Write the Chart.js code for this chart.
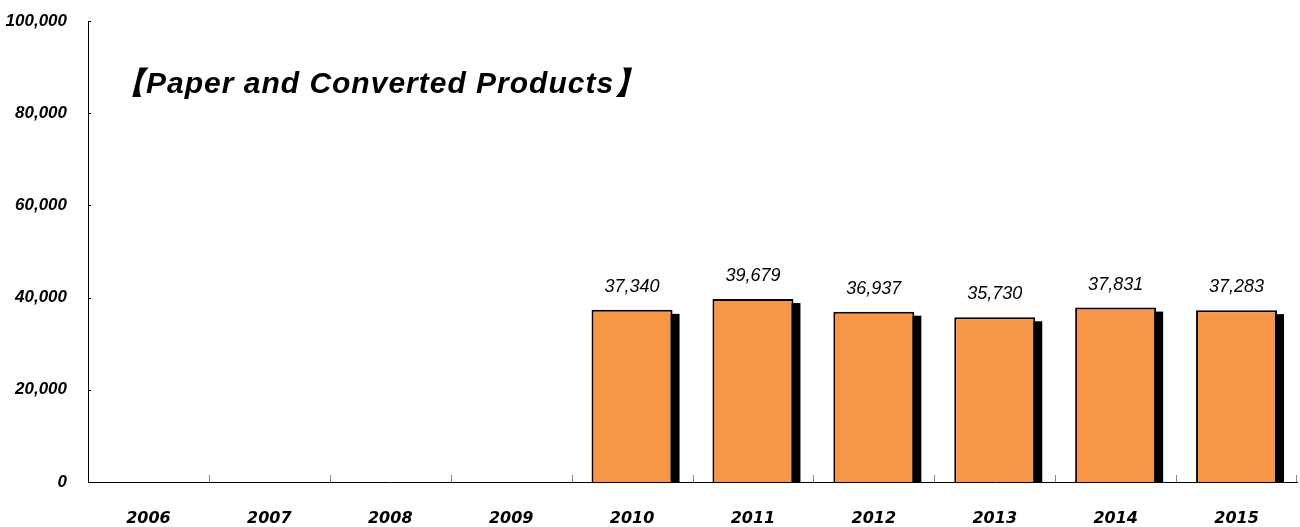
<!DOCTYPE html>
<html>
<head>
<meta charset="utf-8">
<script src="https://cdn.jsdelivr.net/npm/chart.js@4"></script>
<style>
  html, body { margin: 0; padding: 0; background: #fff; }
  #wrap { width: 1300px; height: 527px; }
</style>
</head>
<body>
<div id="wrap"><canvas id="myChart" width="1300" height="527"></canvas></div>
<script>
const years = ['2006', '2007', '2008', '2009', '2010', '2011', '2012', '2013', '2014', '2015'];
const volumes = [null, null, null, null, 37340, 39679, 36937, 35730, 37831, 37283];
const yTicks = [0, 20000, 40000, 60000, 80000, 100000];
const chartTitle = '【Paper and Converted Products】';

const fmt = v => v.toLocaleString('en-US');
const tickFont = { family: 'Liberation Sans', size: 17, style: 'italic', weight: 'bold' };

// black drop shadow behind each bar (bar element clips its own drawing, so paint it first)
const shadowPlugin = {
  id: 'shadow',
  beforeDatasetDraw(chart) {
    const ctx = chart.ctx;
    const area = chart.chartArea;
    ctx.save();
    ctx.beginPath();
    ctx.rect(area.left, area.top, area.right - area.left + 10, area.bottom - area.top);
    ctx.clip();
    ctx.fillStyle = '#000';
    chart.getDatasetMeta(0).data.forEach((bar, i) => {
      if (volumes[i] == null) return;
      const left = bar.x - bar.width / 2 + 7;
      const top = bar.y + 4;
      ctx.fillRect(left, top, bar.width, bar.base - top);
    });
    ctx.restore();
  }
};

// value labels, title, inward tick marks
const extras = {
  id: 'extras',
  afterDraw(chart) {
    const ctx = chart.ctx;
    const x = chart.scales.x, y = chart.scales.y;
    const area = chart.chartArea;
    ctx.save();
    ctx.strokeStyle = '#000';
    ctx.lineWidth = 1;
    yTicks.forEach(t => {
      const py = Math.round(y.getPixelForValue(t)) + 0.5;
      ctx.beginPath();
      ctx.moveTo(area.left, py);
      ctx.lineTo(area.left + 3, py);
      ctx.stroke();
    });
    ctx.strokeStyle = '#888';
    for (let i = 1; i <= years.length; i++) {
      const px = Math.round((x.getPixelForValue(i - 1) + x.getPixelForValue(i)) / 2) + 0.5;
      const pxx = i === years.length ? area.right - 0.5 : px;
      ctx.beginPath();
      ctx.moveTo(pxx, area.bottom);
      ctx.lineTo(pxx, area.bottom - 7);
      ctx.stroke();
    }

    ctx.fillStyle = '#000';
    ctx.font = 'italic 18px "Liberation Sans"';
    ctx.textAlign = 'center';
    ctx.textBaseline = 'alphabetic';
    chart.getDatasetMeta(0).data.forEach((bar, i) => {
      if (volumes[i] == null) return;
      ctx.fillText(fmt(volumes[i]), bar.x, bar.y - 18);
    });

    ctx.font = 'italic bold 30px "Liberation Sans"';
    ctx.letterSpacing = '1px';
    ctx.textAlign = 'left';
    ctx.fillText(chartTitle, 115, 93);
    ctx.restore();
  }
};

const ctx = document.getElementById('myChart').getContext('2d');

const config = {
  type: 'bar',
  data: {
    labels: years,
    datasets: [{
      data: volumes,
      backgroundColor: '#F79646',
      borderColor: '#000',
      borderWidth: 2,
      categoryPercentage: 1,
      barPercentage: 0.67
    }]
  },
  options: {
    responsive: false,
    animation: false,
    layout: {
      padding: { top: 21, right: 3, left: 0, bottom: 0 }
    },
    plugins: {
      legend: { display: false },
      tooltip: { enabled: false },
      title: { display: false }
    },
    scales: {
      x: {
        grid: { display: false, drawTicks: false },
        border: { display: true, color: '#000', width: 1 },
        ticks: { color: '#000', font: { family: 'DejaVu Sans', size: 16, style: 'italic', weight: 'bold' }, padding: 27 },
        afterFit(scale) { scale.height = 45; }
      },
      y: {
        min: 0,
        max: 100000,
        afterBuildTicks(scale) { scale.ticks = yTicks.map(v => ({ value: v })); },
        grid: { display: false, drawTicks: false },
        border: { display: true, color: '#000', width: 1 },
        ticks: {
          color: '#000',
          font: tickFont,
          padding: 21,
          callback: v => fmt(v)
        },
        afterFit(scale) {
          scale.width = 88;
          scale.paddingTop = 0;
          scale.paddingBottom = 0;
        }
      }
    }
  },
  plugins: [shadowPlugin, extras]
};

const myChart = new Chart(ctx, config);
</script>
</body>
</html>
